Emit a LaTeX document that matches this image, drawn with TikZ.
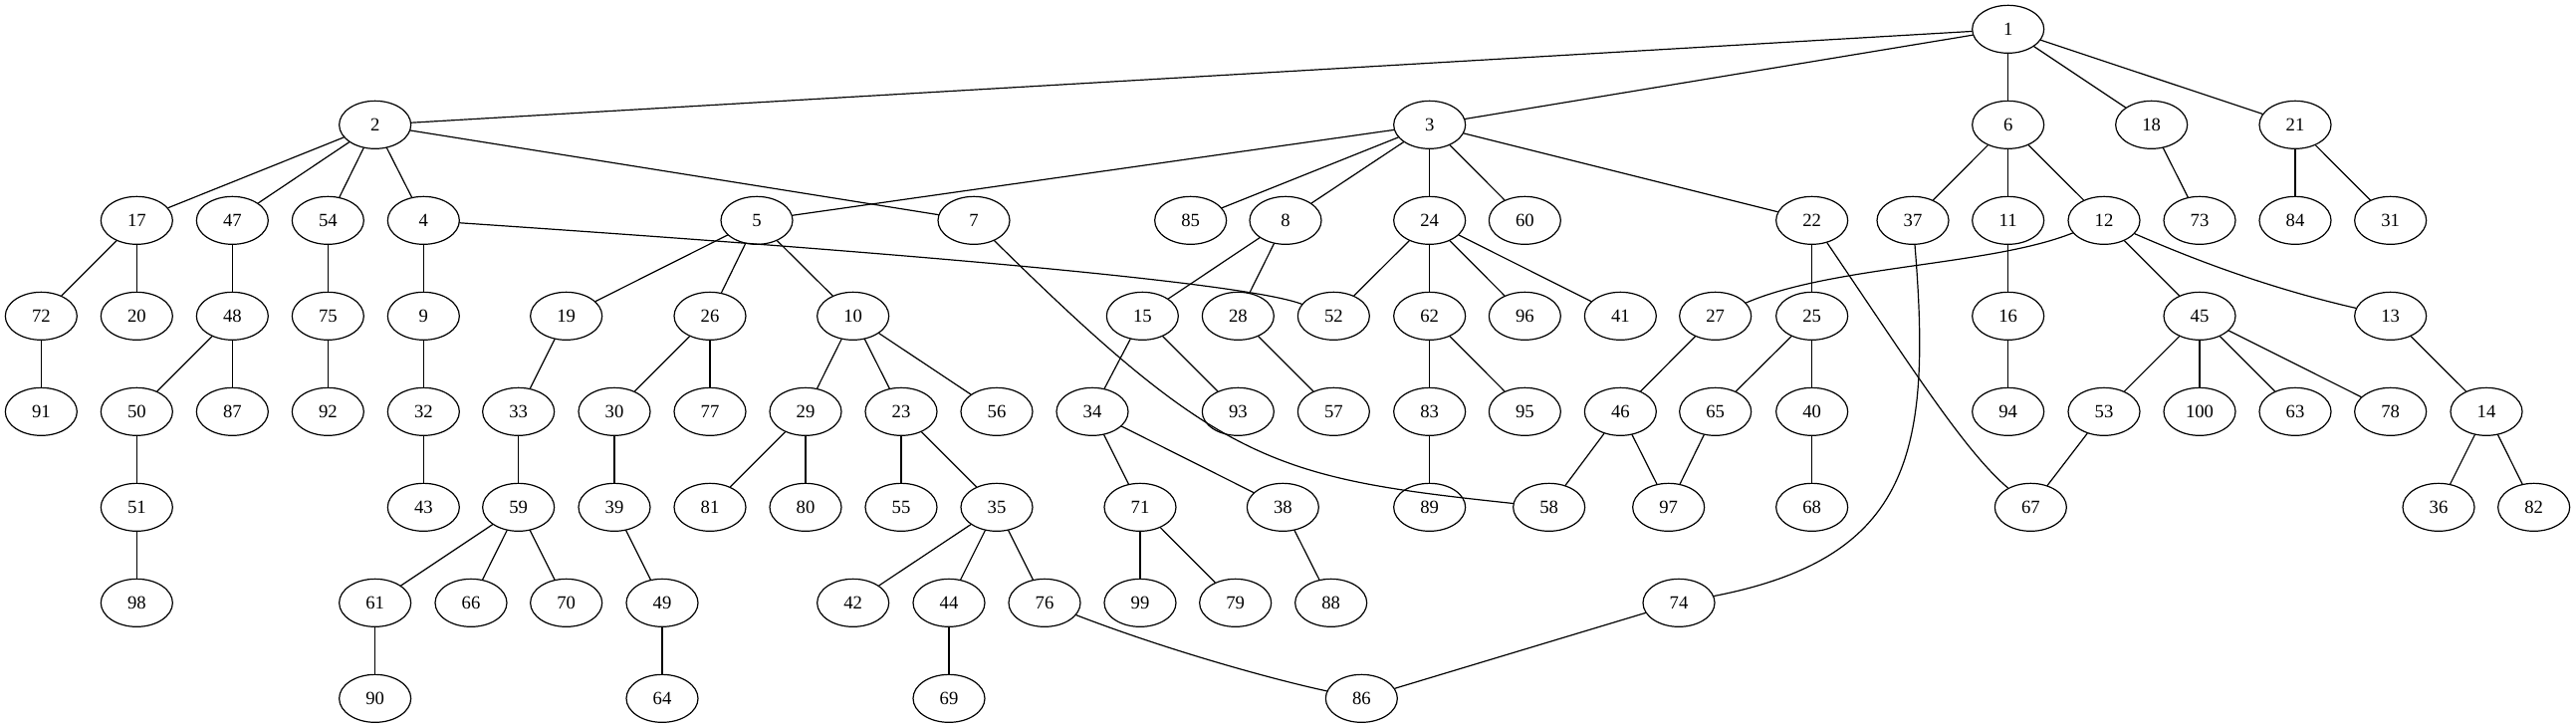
\documentclass[tikz,border=0pt]{standalone}
\usepackage{fontspec}
\setmainfont{Liberation Serif}
\usetikzlibrary{shapes.geometric}
\tikzset{vertex/.style={draw,ellipse,minimum width=54pt,minimum height=36pt,inner sep=0pt,font=\fontsize{14}{16}\selectfont}}

\begin{document}
\begin{tikzpicture}[x=1pt,y=1pt,line width=0.9pt,line join=round,line cap=round]
\useasboundingbox (0,0) rectangle (1940.25,-548.25);
% rank 0 and 1
\node[vertex] (n1) at (1512.5,-22) {1};
\foreach \i/\x in {2/282.5,3/1076.75,6/1512.5,18/1620.5,21/1728.75}{\node[vertex] (n\i) at (\x,-94) {\i};}
% rank 2
\foreach \i/\x in {17/103,47/175,54/247,4/319,5/570,7/733.5,85/896.75,8/968.25,24/1076.75,60/1148.5,22/1364.75,37/1440.75,11/1512.5,12/1584.75,73/1656.75,84/1728.75,31/1800.5}{\node[vertex] (n\i) at (\x,-166) {\i};}
% rank 3
\foreach \i/\x in {72/31,20/103,48/175,75/247,9/319,19/426.5,26/534.75,10/642.5,15/860.5,28/932.5,52/1004.5,62/1076.75,96/1148.5,41/1220.5,27/1292,25/1364.75,16/1512.5,45/1656.75,13/1800.5}{\node[vertex] (n\i) at (\x,-238) {\i};}
% rank 4
\foreach \i/\x in {91/31,50/103,87/175,92/247,32/319,33/390.5,30/462.75,77/534.75,29/606.75,23/678.75,56/750.75,34/822.75,93/932.5,57/1004.5,83/1076.75,95/1148.5,46/1220.5,65/1292,40/1364.75,94/1512.5,53/1584.75,100/1656.75,63/1728.75,78/1800.5,14/1872.75}{\node[vertex] (n\i) at (\x,-310) {\i};}
% rank 5
\foreach \i/\x in {51/103,43/319,59/390.5,39/462.75,81/534.75,80/606.75,55/678.75,35/750.75,71/858.75,38/966.25,89/1076.75,58/1166.75,97/1256.75,68/1364.75,67/1529.5,36/1836.75,82/1908.5}{\node[vertex] (n\i) at (\x,-382) {\i};}
% rank 6 and 7
\foreach \i/\x in {98/103,61/282.5,66/354.75,70/426.5,49/498.75,42/642.5,44/714.75,76/786.75,99/858.75,79/930.5,88/1002.5,74/1264.5}{\node[vertex] (n\i) at (\x,-454) {\i};}
\foreach \i/\x in {90/282.5,64/498.75,69/714.75,86/1025.5}{\node[vertex] (n\i) at (\x,-526) {\i};}
% straight edges
\foreach \a/\b in {1/2,1/3,1/6,1/18,1/21,2/17,2/47,2/54,2/4,2/7,3/5,3/85,3/8,3/24,3/60,3/22,6/37,6/11,6/12,18/73,21/84,21/31,
17/72,17/20,47/48,54/75,4/9,5/19,5/26,5/10,8/15,8/28,24/52,24/62,24/96,24/41,22/25,11/16,12/45,
72/91,48/50,48/87,75/92,9/32,19/33,26/30,26/77,10/29,10/23,10/56,15/34,15/93,28/57,62/83,62/95,27/46,25/65,25/40,16/94,45/53,45/100,45/63,45/78,13/14,
50/51,32/43,33/59,30/39,29/81,29/80,23/55,23/35,34/71,34/38,83/89,46/58,46/97,65/97,40/68,53/67,14/36,14/82,
51/98,59/61,59/66,59/70,39/49,35/42,35/44,35/76,71/99,71/79,38/88,74/86,61/90,49/64,44/69}{\draw (n\a)--(n\b);}
% bent edges
\draw (n4) .. controls (600,-185) and (930,-210) .. (n52);
\draw (n7) .. controls (920,-350) and (960,-360) .. (n58);
\draw (n22) .. controls (1440,-277) and (1480,-340) .. (n67);
\draw (n37) .. controls (1455,-340) and (1440,-420) .. (n74);
\draw (n12) .. controls (1500,-200) and (1380,-200) .. (n27);
\draw (n12) .. controls (1640,-190) and (1700,-215) .. (n13);
\draw (n76) .. controls (880,-490) and (960,-512) .. (n86);
\end{tikzpicture}
\end{document}
